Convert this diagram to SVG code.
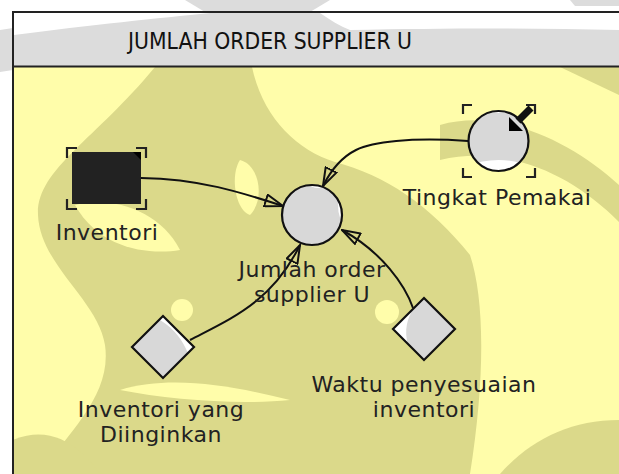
<svg xmlns="http://www.w3.org/2000/svg" width="619" height="474" viewBox="0 0 619 474">
<defs>
<style>
.lbl{font-family:"DejaVu Sans","Verdana",sans-serif;font-size:22px;letter-spacing:0.5px;fill:#222;text-anchor:middle}
.title{font-family:"DejaVu Sans Condensed","DejaVu Sans",sans-serif;font-stretch:condensed;font-size:23px;fill:#111;text-anchor:middle}
.link{fill:none;stroke:#111;stroke-width:2}
.brk{fill:none;stroke:#222;stroke-width:2.2}
.aux{fill:none;stroke:#111;stroke-width:2.2}
.wm{fill:#DBD98A}
.wl{fill:#FFFDAA}
.wg{fill:#DCDCDC}
</style>
<marker id="arr" viewBox="0 0 20 14" refX="19" refY="7" markerWidth="20" markerHeight="14" markerUnits="userSpaceOnUse" orient="auto">
<path d="M1,1 L19,7 L1,13 Z" fill="none" stroke="#111" stroke-width="2"/>
</marker>
<clipPath id="cT"><circle cx="498.5" cy="141" r="30"/></clipPath>
<clipPath id="cJ"><circle cx="312" cy="215" r="30"/></clipPath>
<clipPath id="cD1"><path d="M163,316 L194,347 L163,378 L132,347 Z"/></clipPath>
<clipPath id="cD2"><path d="M424,298 L455,329 L424,360 L393,329 Z"/></clipPath>
<clipPath id="cY"><rect x="14" y="67" width="610" height="410"/></clipPath>
<clipPath id="cH"><rect x="14" y="13" width="610" height="53"/></clipPath>
</defs>
<rect x="0" y="0" width="619" height="474" fill="#ffffff"/>
<path class="wg" d="M0,30 L13,28 L13,70 L0,72 Z"/>
<path class="wg" d="M185,0 L330,0 L310,12 L205,12 Z"/>
<path class="wg" d="M570,0 L619,0 L619,6 L575,6 Z"/>
<rect x="13" y="12" width="620" height="470" fill="#FFFDAA"/>
<g id="watermark-title" clip-path="url(#cH)">
<rect x="14" y="13" width="610" height="53" fill="#ffffff"/>
<path class="wg" d="M14,35 C90,25 160,18 210,13 L320,13 C330,20 340,26 350,30 C450,28 540,28 619,30 L619,66 L14,66 Z"/>
</g>
<g id="watermark" clip-path="url(#cY)">
<path class="wm" d="M155,67 L252,67 C262,115 295,150 335,162 C385,175 430,205 470,255 C485,300 485,380 470,474 L40,474 C70,430 112,395 105,345 C98,300 40,265 38,215 C36,170 95,140 155,67 Z"/>
<path class="wm" d="M560,67 L619,67 L619,95 Z"/>
<path class="wm" d="M440,125 C500,108 570,140 619,185 L619,222 C570,172 505,145 440,160 Z"/>
<path class="wm" d="M13,440 C60,420 90,460 100,474 L13,474 Z"/>
<path class="wm" d="M500,474 C530,440 570,420 619,420 L619,474 Z"/>
<path class="wl" d="M14,67 L140,67 C110,100 60,125 40,160 L14,160 Z"/>
<path class="wl" d="M240,160 C260,165 265,200 250,215 C235,210 230,175 240,160 Z"/>
<circle class="wl" cx="182" cy="310" r="11"/>
<circle class="wl" cx="387" cy="312" r="12"/>
<path class="wl" d="M75,205 C110,195 160,210 180,250 C150,255 100,250 75,205 Z"/>
<path class="wl" d="M120,390 C170,375 230,385 290,400 C240,405 170,400 120,390 Z"/>
</g>
<rect x="13" y="12" width="620" height="470" fill="none" stroke="#222" stroke-width="2"/>
<line x1="13" y1="66.5" x2="619" y2="66.5" stroke="#222" stroke-width="2"/>
<text class="title" x="270" y="49" textLength="284" lengthAdjust="spacingAndGlyphs">JUMLAH ORDER SUPPLIER U</text>

<g id="connectors">
<path class="link" d="M141,178 C200,179 240,192 283,206" marker-end="url(#arr)"/>
<path class="link" d="M468,141 C410,137 372,142 356,150 C340,158 330,172 323,186" marker-end="url(#arr)"/>
<path class="link" d="M190,340 C232,318 272,302 300,245" marker-end="url(#arr)"/>
<path class="link" d="M413,308 C405,285 382,252 342,230" marker-end="url(#arr)"/>
</g>

<g id="inventori">
<rect x="72" y="152" width="69" height="52" fill="#222"/>
<path d="M133,152 L141,152 L141,160 Z" fill="#000"/>
<path class="brk" d="M67,158 L67,148 L77,148 M136,148 L146,148 L146,158 M67,199 L67,209 L77,209 M136,209 L146,209 L146,199"/>
<text class="lbl" x="107" y="240">Inventori</text>
</g>

<g id="tingkat-pemakai">
<circle cx="498.5" cy="141" r="30" fill="#D8D8D8"/>
<g clip-path="url(#cT)">
<ellipse cx="498.5" cy="180" rx="42" ry="20" fill="#ffffff"/>
<ellipse cx="498.5" cy="103" rx="40" ry="10" fill="#ffffff"/>
</g>
<circle cx="498.5" cy="141" r="30" fill="none" stroke="#111" stroke-width="2.2"/>
<path class="brk" d="M463,114 L463,105 L472,105 M526,105 L535,105 L535,114 M463,168 L463,177 L472,177 M526,177 L535,177 L535,168"/>
<path d="M531,108 L518,121" stroke="#111" stroke-width="7" fill="none"/>
<path d="M509,117 L509,131 L523,131 Z" fill="#000"/>
<text class="lbl" x="497" y="205">Tingkat Pemakai</text>
</g>

<g id="jumlah-order">
<circle cx="312" cy="215" r="30" fill="#D8D8D8"/>
<g clip-path="url(#cJ)">
<ellipse cx="345" cy="205" rx="7" ry="18" fill="#ffffff"/>
<ellipse cx="318" cy="184" rx="8" ry="4" fill="#ffffff"/>
<ellipse cx="279" cy="228" rx="5" ry="14" fill="#ffffff"/>
</g>
<circle cx="312" cy="215" r="30" fill="none" stroke="#111" stroke-width="2.2"/>
<text class="lbl" x="312" y="277">Jumlah order</text>
<text class="lbl" x="312" y="302">supplier U</text>
</g>

<g id="inventori-yang-diinginkan">
<path d="M163,316 L194,347 L163,378 L132,347 Z" fill="#D8D8D8"/>
<g clip-path="url(#cD1)">
<path d="M163,316 L194,347 L188,353 C182,340 176,330 160,320 Z" fill="#ffffff"/>
</g>
<path class="aux" d="M163,316 L194,347 L163,378 L132,347 Z"/>
<text class="lbl" x="161" y="417">Inventori yang</text>
<text class="lbl" x="161" y="442">Diinginkan</text>
</g>

<g id="waktu-penyesuaian">
<path d="M424,298 L455,329 L424,360 L393,329 Z" fill="#D8D8D8"/>
<g clip-path="url(#cD2)">
<path d="M393,329 L414,308 C407,318 404,330 408,345 Z" fill="#ffffff"/>
</g>
<path class="aux" d="M424,298 L455,329 L424,360 L393,329 Z"/>
<text class="lbl" x="424" y="392">Waktu penyesuaian</text>
<text class="lbl" x="424" y="417">inventori</text>
</g>
</svg>
